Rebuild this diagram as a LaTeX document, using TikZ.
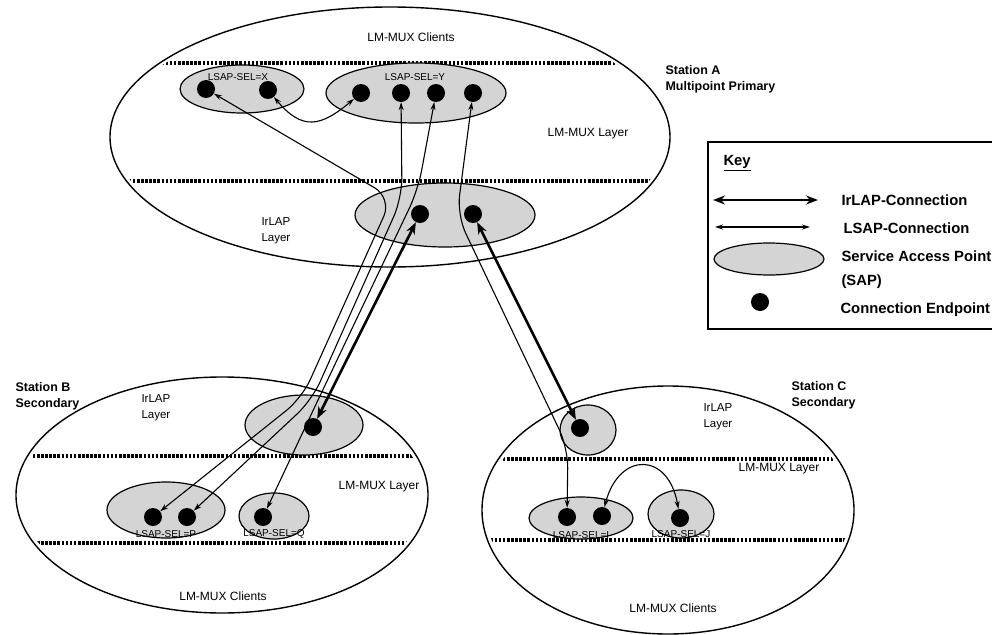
\documentclass[tikz,border=0pt]{standalone}
\usepackage{fontspec}
\setmainfont{Liberation Sans}
\usetikzlibrary{shapes.geometric,arrows.meta}

\colorlet{sapgray}{black!17}
\def\dotsize{18pt}

\begin{document}
\begin{tikzpicture}[x=1pt,y=-1pt]
  \tikzstyle{station}=[ellipse,draw,line width=1.4pt,fill=white,inner sep=0pt,outer sep=0pt]
  \tikzstyle{sap}=[ellipse,draw,line width=1.2pt,fill=sapgray,inner sep=0pt,outer sep=0pt]
  \tikzstyle{endpoint}=[circle,fill=black,minimum size=\dotsize,inner sep=0pt]
  \tikzstyle{layerline}=[line width=3.2pt,dash pattern=on 2.6pt off 1.5pt]
  \tikzstyle{irlap}=[line width=2.6pt,{Stealth[length=12pt,width=9pt]}-{Stealth[length=12pt,width=9pt]}]
  \tikzstyle{lsap}=[line width=1.1pt,{Stealth[length=8pt,width=5pt]}-{Stealth[length=8pt,width=5pt]}]
  \tikzstyle{annot}=[font=\fontsize{12}{14}\selectfont]
  \tikzstyle{selname}=[font=\fontsize{10}{12}\selectfont,inner sep=0.5pt,anchor=south]
  \tikzstyle{irname}=[font=\fontsize{11.5}{16}\selectfont,align=left,anchor=west]
  \tikzstyle{stname}=[font=\bfseries\fontsize{12.5}{16}\selectfont,align=left,anchor=west]
  \tikzstyle{keytext}=[font=\bfseries\fontsize{14.8}{24}\selectfont,align=left,anchor=west]

  \useasboundingbox (0,0) rectangle (992,634);

  % Station A
  \node[station, minimum width=560pt, minimum height=260pt] (A) at (390,137) {};
  \begin{scope}
    \clip (390,137) ellipse [x radius=276pt, y radius=127pt];
    \draw[layerline] (100,63) -- (680,63);
    \draw[layerline] (100,181) -- (680,181);
  \end{scope}
  \node[annot] (A-cl) at (411,37) {LM-MUX Clients};
  \node[annot] (A-mux) at (588,134) {LM-MUX Layer};
  \node[irname] (A-ir) at (258,231) {IrLAP\\Layer};
  \node[stname] (A-st) at (662,79) {Station A\\Multipoint Primary};

  \node[sap, minimum width=124pt, minimum height=48pt] (SX) at (242,89) {};
  \node[selname] (SX-l) at (238,81) {LSAP-SEL=X};
  \node[sap, minimum width=180pt, minimum height=60pt] (SY) at (416,93) {};
  \node[selname] (SY-l) at (415,81) {LSAP-SEL=Y};
  \node[sap, minimum width=180pt, minimum height=64pt] (SLA) at (445,215) {};

  \node[endpoint] (X-1) at (206,89) {};
  \node[endpoint] (X-2) at (268,90) {};
  \foreach \name / \x in {1/361,2/401,3/436,4/473}
  \node[endpoint] (Y-\name) at (\x,93) {};
  \node[endpoint] (LA-1) at (420,214) {};
  \node[endpoint] (LA-2) at (473,214) {};

  % Station B
  \node[station, minimum width=412pt, minimum height=236pt] (B) at (222,495) {};
  \begin{scope}
    \clip (222,495) ellipse [x radius=202pt, y radius=114pt];
    \draw[layerline] (0,456) -- (440,456);
    \draw[layerline] (0,543) -- (440,543);
  \end{scope}
  \node[irname] (B-ir) at (138,408) {IrLAP\\Layer};
  \node[stname] (B-st) at (12,396) {Station B\\Secondary};
  \node[annot] (B-mux) at (379,487) {LM-MUX Layer};
  \node[annot] (B-cl) at (223,596) {LM-MUX Clients};

  \node[sap, minimum width=118pt, minimum height=60pt] (SLB) at (304,425) {};
  \node[sap, minimum width=118pt, minimum height=56pt] (SP) at (166,510) {};
  \node[selname] (SP-l) at (SP.south) {LSAP-SEL=P};
  \node[sap, minimum width=70pt, minimum height=46pt] (SQ) at (274,516) {};
  \node[selname] (SQ-l) at (SQ.south) {LSAP-SEL=Q};

  \node[endpoint] (LB-1) at (313,427) {};
  \node[endpoint] (P-1) at (153,517) {};
  \node[endpoint] (P-2) at (187,517) {};
  \node[endpoint] (Q-1) at (263,517) {};

  % Station C
  \node[station, minimum width=372pt, minimum height=248pt] (C) at (668,510) {};
  \begin{scope}
    \clip (668,510) ellipse [x radius=182pt, y radius=120pt];
    \draw[layerline] (470,459) -- (870,459);
    \draw[layerline] (470,540) -- (870,540);
  \end{scope}
  \node[irname] (C-ir) at (700,417) {IrLAP\\Layer};
  \node[stname] (C-st) at (788,395) {Station C\\Secondary};
  \node[annot] (C-mux) at (779,469) {LM-MUX Layer};
  \node[annot] (C-cl) at (673,608) {LM-MUX Clients};

  \node[sap, minimum width=56pt, minimum height=50pt] (SLC) at (588,430) {};
  \node[sap, minimum width=104pt, minimum height=42pt] (SI) at (581,518) {};
  \node[selname] (SI-l) at (SI.south) {LSAP-SEL=I};
  \node[sap, minimum width=66pt, minimum height=48pt] (SJ) at (681,514) {};
  \node[selname] (SJ-l) at (SJ.south) {LSAP-SEL=J};

  \node[endpoint] (LC-1) at (580,428) {};
  \node[endpoint] (I-1) at (567,517) {};
  \node[endpoint] (I-2) at (602,516) {};
  \node[endpoint] (J-1) at (680,518) {};

  % IrLAP connections
  \draw[irlap] (LA-1) -- (LB-1);
  \draw[irlap] (LA-2) -- (LC-1);

  % LSAP connections
  \draw[lsap, rounded corners=20pt] (X-1) -- (392,198) -- (302,398) -- (P-1);
  \draw[lsap, rounded corners=20pt] (Y-2) -- (402,198) -- (312,400) -- (P-2);
  \draw[lsap, rounded corners=20pt] (Y-3) -- (418,190) -- (318,400) -- (Q-1);
  \draw[lsap, rounded corners=20pt] (Y-4) -- (457,215) -- (568,448) -- (I-1);
  \draw[lsap] (X-2) to[out=-50,in=-140,looseness=1.4] (Y-1);
  \draw[lsap] (I-2) to[out=75,in=100,looseness=2] (J-1);

  % Key
  \draw[line width=1.4pt] (992,142) -- (708,142) -- (708,329) -- (992,329);
  \node[keytext] (key) at (720,163) {\underline{Key}};
  \coordinate (k1a) at (713,200);
  \coordinate (k1b) at (818,200);
  \draw[irlap] (k1a) -- (k1b);
  \node[keytext] (k1t) at (838,200) {IrLAP-Connection};
  \coordinate (k2a) at (715,227);
  \coordinate (k2b) at (810,227);
  \draw[lsap] (k2a) -- (k2b);
  \node[keytext] (k2t) at (840,228) {LSAP-Connection};
  \node[sap, minimum width=110pt, minimum height=32pt] (k3) at (769,259) {};
  \node[keytext] (k3t) at (838,270) {Service Access Point\\(SAP)};
  \node[endpoint] (k4) at (760,302) {};
  \node[keytext] (k4t) at (837,310) {Connection Endpoint};
\end{tikzpicture}
\end{document}
